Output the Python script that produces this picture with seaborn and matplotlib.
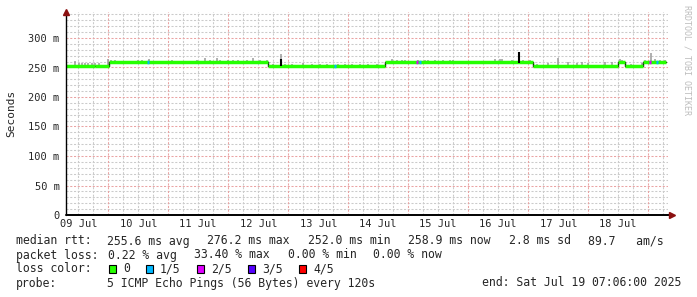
import numpy as np
import pandas as pd
import matplotlib
matplotlib.use("Agg")
import matplotlib.pyplot as plt
import matplotlib.patches as mpatches
import seaborn as sns

# ---------------- data ----------------
start_hour_of_day = 7.1          # graph starts 09 Jul 07:06, spans 240 h
span_hours = 240.0
day_labels = ["09 Jul", "10 Jul", "11 Jul", "12 Jul", "13 Jul",
              "14 Jul", "15 Jul", "16 Jul", "17 Jul", "18 Jul"]
y_ticks = [0, 50, 100, 150, 200, 250, 300]
y_tick_labels = ["0", "50 m", "100 m", "150 m", "200 m", "250 m", "300 m"]

# median rtt step levels (hours since start, ms)
seg_start_h = [0.0, 11.6, 17.2, 80.8, 127.6, 186.8, 220.8, 223.6, 230.8]
seg_level_ms = [252.5, 253.2, 258.6, 252.8, 259.0, 252.5, 259.0, 252.5, 259.0]

# grey "smoke" spikes above the median (hours, top ms)
smoke_h = [3.6, 5.2, 6.4, 7.6, 8.8, 10.4, 11.6, 13.2, 16.8, 18.0, 19.6, 21.6,
           23.6, 25.2, 28.8, 30.4, 33.2, 37.2, 38.8, 42.4, 44.4, 46.4,
           48.4, 52.4, 55.6, 57.6, 60.4, 61.6, 64.8, 66.8, 68.8, 72.4, 74.8,
           77.6, 80.4, 82.8, 86.0, 87.6, 90.4, 94.8,
           98.4, 101.6, 104.4, 108.8, 111.6, 114.4, 117.6, 120.8, 124.4,
           130.4, 132.4, 134.4, 135.6, 140.8, 143.6, 144.8,
           147.6, 150.8, 153.6, 154.8, 171.6, 173.6, 174.4, 178.4, 182.8,
           185.6, 188.4,
           192.8, 196.8, 200.8, 204.4, 206.4, 208.8, 215.6, 218.4, 221.6,
           222.4, 226.0, 230.4, 231.6, 234.0, 235.6, 237.6, 239.6]
smoke_top_ms = [261.5, 257.0, 257.0, 257.0, 258.0, 257.0, 258.0, 257.0, 264.0,
                263.0, 262.0, 261.0, 261.0, 261.0, 263.0, 262.0, 264.0, 261.0,
                261.0, 263.0, 261.0, 261.0,
                261.5, 263.0, 266.6, 263.0, 266.6, 262.0, 262.0, 262.0, 262.0,
                262.0, 266.6, 262.0, 262.0, 255.5, 273.0, 256.0, 256.0, 258.0,
                255.5, 256.5, 256.5, 256.5, 256.0, 256.0, 256.0, 256.0, 256.0,
                264.0, 262.0, 262.0, 262.0, 263.0, 262.0, 263.0,
                263.0, 262.0, 262.0, 263.0, 264.0, 264.0, 265.0, 262.0, 262.0,
                262.0, 256.0,
                257.0, 266.6, 259.0, 257.5, 259.5, 258.0, 260.0, 259.0, 264.0,
                263.0, 256.0, 258.0, 262.0, 274.0, 264.0, 263.0, 262.0]

# dark (black) spikes
dark_h = [86.0, 181.0]
dark_low_ms = [252.5, 257.0]
dark_top_ms = [265.0, 277.0]

# short stretches of the median drawn in a loss colour
loss_h = [32.8, 107.6, 140.4, 141.6, 233.6, 236.4]
loss_level_ms = [258.6, 252.8, 259.0, 259.0, 259.0, 259.0]
loss_class = [1, 1, 2, 1, 2, 1]

loss_names = ["0", "1/5", "2/5", "3/5", "4/5"]
loss_colors = ["#26ff00", "#00b8ff", "#e000ff", "#5500ff", "#ff0000"]

stats_rtt = ["255.6 ms avg", "276.2 ms max", "252.0 ms min", "258.9 ms now",
             "2.8 ms sd", "89.7   am/s"]
stats_loss = ["0.22 % avg", "33.40 % max", "0.00 % min", "0.00 % now"]
probe_text = "5 ICMP Echo Pings (56 Bytes) every 120s"
end_text = "end: Sat Jul 19 07:06:00 2025"

# ---------------- figure ----------------
sns.set_theme(style="white")
plt.rcParams["font.family"] = ["DejaVu Sans Mono", "DejaVu Sans"]
W, H = 697, 297
fig = plt.figure(figsize=(W / 100, H / 100), dpi=100)
fig.patch.set_facecolor("white")

x0, x1, ytop, ybot = 66, 668, 12, 215
ax = fig.add_axes([x0 / W, 1 - ybot / H, (x1 - x0) / W, (ybot - ytop) / H])
ax.set_facecolor("white")
ax.set_xlim(0, (x1 - x0) / 2.5)
ms_per_px = 300 / 177.0
ax.set_ylim(0, (ybot - ytop) * ms_per_px)

ymax = ax.get_ylim()[1]
xmax = ax.get_xlim()[1]

# grid
minor_col = "#cbcbcb"
major_col = "#eaa3a3"
dash = (0, (2, 1.6))
for v in np.arange(10, ymax, 10):
    if v % 50 == 0:
        continue
    ax.axhline(v, color=minor_col, lw=0.75, ls=dash, zorder=0)
for v in np.arange(50, ymax, 50):
    ax.axhline(v, color=major_col, lw=0.75, ls=dash, zorder=0.5)
first_midnight = 24 - start_hour_of_day
for v in np.arange(first_midnight - 24, xmax, 6):
    if v <= 0:
        continue
    k = round((v - first_midnight) / 6)
    if k % 4 == 0:
        ax.axvline(v, color=major_col, lw=0.75, ls=dash, zorder=0.5)
    else:
        ax.axvline(v, color=minor_col, lw=0.75, ls=dash, zorder=0)

# step lookup for smoke bases
seg_arr = np.array(seg_start_h)
lvl_arr = np.array(seg_level_ms)
def level_at(h):
    return lvl_arr[np.searchsorted(seg_arr, h, side="right") - 1]

smoke_base = [level_at(h) for h in smoke_h]
ax.vlines(smoke_h, smoke_base, smoke_top_ms, color="#9a9a9a", lw=1.1, zorder=2)

# median: thin black step line (connectors) + thick green segments
df_med = pd.DataFrame({"h": seg_start_h + [span_hours],
                       "ms": seg_level_ms + [seg_level_ms[-1]]})
sns.lineplot(data=df_med, x="h", y="ms", drawstyle="steps-post",
             color="black", lw=1.0, ax=ax, zorder=3)
seg_end_h = seg_start_h[1:] + [span_hours]
ax.hlines(seg_level_ms, seg_start_h, seg_end_h, color=loss_colors[0],
          lw=2.5, zorder=4)

ax.vlines(dark_h, dark_low_ms, dark_top_ms, color="black", lw=1.5, zorder=5)

for h, lv, c in zip(loss_h, loss_level_ms, loss_class):
    ax.hlines(lv, h - 0.4, h + 0.4, color=loss_colors[c], lw=2.5, zorder=5)

# axes styling
for s in ["top", "right", "left", "bottom"]:
    ax.spines[s].set_visible(False)
ax.plot([0, 1.007], [0, 0], transform=ax.transAxes, color="black",
        lw=1.4, clip_on=False, zorder=6)
ax.plot([0, 0], [0, 1.0], transform=ax.transAxes, color="black",
        lw=1.0, clip_on=False, zorder=6)
ax.plot([1.007], [0], marker=">", ms=4.5, color="#8b1010",
        transform=ax.transAxes, clip_on=False, zorder=7)
ax.plot([0], [1.0], marker="^", ms=4.5, color="#8b1010",
        transform=ax.transAxes, clip_on=False, zorder=7)

noon_pos = [12 - start_hour_of_day + 24 * i for i in range(len(day_labels))]
ax.set_xticks(noon_pos)
ax.set_xticklabels(day_labels, fontsize=7.5)
ax.set_yticks(y_ticks)
ax.set_yticklabels(y_tick_labels, fontsize=7.5)
ax.tick_params(axis="x", length=0, pad=3)
ax.tick_params(axis="y", length=0, pad=4.5)
ax.set_xlabel("")
ax.set_ylabel("")

fig.text(11 / W, 1 - 113 / H, "Seconds", rotation=90, ha="center",
         va="center", fontsize=8)
fig.text(687 / W, 1 - 60 / H, "RRDTOOL / TOBI OETIKER", rotation=270,
         ha="center", va="center", fontsize=6, color="#bdbdbd")

fs = 8.3
def put(x, y, s, **kw):
    fig.text(x / W, 1 - y / H, s, ha=kw.pop("ha", "left"), va="center",
             fontsize=fs, **kw)

put(16, 241, "median rtt:")
for x, s in zip([107, 207, 308, 408, 509, 588], stats_rtt):
    put(x, 241, s)
put(16, 255, "packet loss:")
for x, s in zip([108, 194, 288, 373], stats_loss):
    put(x, 255, s)
put(16, 269, "loss color:")
for bx, lx, name, col in zip([109, 146, 197, 248, 299],
                             [123, 160, 211, 262, 313],
                             loss_names, loss_colors):
    fig.patches.append(mpatches.Rectangle((bx / W, 1 - 273 / H), 7 / W, 8 / H,
                                          transform=fig.transFigure,
                                          facecolor=col, edgecolor="black",
                                          lw=0.8))
    put(lx, 269, name)
put(16, 283, "probe:")
put(107, 283, probe_text)
put(681, 283, end_text, ha="right")

fig.savefig("out.png", dpi=100, facecolor="white")
